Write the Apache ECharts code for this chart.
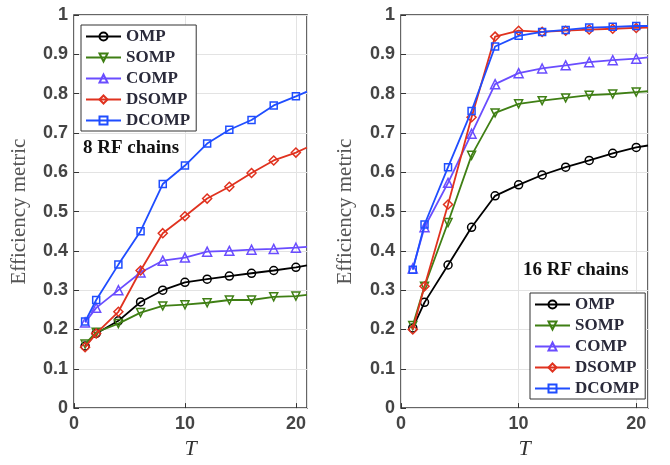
<!DOCTYPE html>
<html>
<head>
<meta charset="utf-8">
<script src="https://cdn.jsdelivr.net/npm/echarts@6/dist/echarts.min.js"></script>
<style>
  html, body { margin: 0; padding: 0; background: #fff; }
  #main { width: 670px; height: 465px; }
</style>
</head>
<body>
<div id="main"></div>
<script>
// T values (21 = where the curve leaves the plot box, no marker)
var tVals = [1, 2, 4, 6, 8, 10, 12, 14, 16, 18, 20, 21]

// 8 RF chains
var omp8 = [0.158, 0.19, 0.222, 0.27, 0.30, 0.32, 0.328, 0.336, 0.343, 0.35, 0.358, 0.363]
var somp8 = [0.163, 0.193, 0.215, 0.243, 0.26, 0.263, 0.268, 0.275, 0.275, 0.283, 0.285, 0.288]
var comp8 = [0.218, 0.255, 0.30, 0.345, 0.375, 0.383, 0.398, 0.40, 0.403, 0.405, 0.408, 0.41]
var dsomp8 = [0.155, 0.19, 0.245, 0.35, 0.445, 0.488, 0.533, 0.563, 0.598, 0.63, 0.65, 0.663]
var dcomp8 = [0.22, 0.275, 0.365, 0.45, 0.57, 0.617, 0.673, 0.708, 0.733, 0.77, 0.793, 0.805]

// 16 RF chains
var omp16 = [0.204, 0.269, 0.364, 0.46, 0.54, 0.568, 0.593, 0.613, 0.63, 0.648, 0.663, 0.668]
var somp16 = [0.21, 0.31, 0.472, 0.643, 0.751, 0.774, 0.782, 0.789, 0.796, 0.799, 0.804, 0.806]
var comp16 = [0.355, 0.46, 0.573, 0.698, 0.824, 0.852, 0.864, 0.872, 0.88, 0.885, 0.889, 0.892]
var dsomp16 = [0.20, 0.31, 0.518, 0.74, 0.945, 0.96, 0.957, 0.96, 0.963, 0.965, 0.967, 0.968]
var dcomp16 = [0.352, 0.467, 0.613, 0.756, 0.92, 0.947, 0.957, 0.962, 0.968, 0.97, 0.972, 0.972]

var names = ['OMP', 'SOMP', 'COMP', 'DSOMP', 'DCOMP']
var colors = ['#000000', '#3f7f14', '#6a4dff', '#e0321f', '#1f4dff']
var symbols = ['circle', 'triangle', 'triangle', 'diamond', 'rect']
var rotates = [0, 180, 0, 0, 0]
var sizes = [8, 8, 9, 9, 7]

var sets8 = [omp8, somp8, comp8, dsomp8, dcomp8]
var sets16 = [omp16, somp16, comp16, dsomp16, dcomp16]

function pairs (ys) {
  return tVals.map(function (t, i) {
    if (i === tVals.length - 1) {
      return { value: [t, ys[i]], symbol: 'none' }
    }
    return [t, ys[i]]
  })
}

var series = []
for (var g = 0; g < 2; g++) {
  var sets = g === 0 ? sets8 : sets16
  for (var k = 0; k < names.length; k++) {
    series.push({
      name: names[k],
      type: 'line',
      xAxisIndex: g,
      yAxisIndex: g,
      data: pairs(sets[k]),
      symbol: symbols[k],
      symbolRotate: rotates[k],
      symbolSize: sizes[k],
      lineStyle: { color: colors[k], width: 1.8 },
      itemStyle: { color: 'rgba(255,255,255,0)', borderColor: colors[k], borderWidth: 1.5 },
      z: 2 + k
    })
  }
}

function xAxisOf (idx) {
  return {
    type: 'value',
    gridIndex: idx,
    min: 0,
    max: 21,
    interval: 10,
    name: 'T',
    nameLocation: 'middle',
    nameGap: 24,
    nameTextStyle: { fontFamily: 'Liberation Serif', fontStyle: 'italic', fontSize: 22, color: '#333' },
    axisLine: { show: false },
    axisTick: { inside: true, length: 5, lineStyle: { color: '#333' } },
    axisLabel: { showMaxLabel: false, fontFamily: 'Liberation Sans', fontWeight: 'bold', fontSize: 18, color: '#444', margin: 7 },
    splitLine: { lineStyle: { color: '#e3e3e3' } }
  }
}

function yAxisOf (idx, gap) {
  return {
    type: 'value',
    gridIndex: idx,
    min: 0,
    max: 1,
    interval: 0.1,
    name: 'Efficiency metric',
    nameLocation: 'middle',
    nameGap: gap,
    nameTextStyle: { fontFamily: 'Liberation Serif', fontSize: 21, color: '#555' },
    axisLine: { show: false },
    axisTick: { show: true, inside: true, length: 5, lineStyle: { color: '#333' } },
    axisLabel: { fontFamily: 'Liberation Sans', fontWeight: 'bold', fontSize: 18, color: '#444', margin: 6 },
    splitLine: { lineStyle: { color: '#e3e3e3' } }
  }
}

function legendAt (left, top) {
  return {
    data: names,
    orient: 'vertical',
    left: left,
    top: top,
    itemWidth: 35,
    itemHeight: 10,
    itemGap: 4,
    padding: [3, 6, 2, 4],
    backgroundColor: '#fff',
    borderColor: '#333',
    borderWidth: 1,
    selectedMode: false,
    textStyle: { fontFamily: 'Liberation Serif', fontWeight: 'bold', fontSize: 17, lineHeight: 17, color: '#2a2a3a' }
  }
}

var chart = echarts.init(document.getElementById('main'))
chart.setOption({
  animation: false,
  backgroundColor: '#fff',
  grid: [
    { left: 74, top: 15, width: 233, height: 400, show: true, borderColor: '#333', borderWidth: 1.5, backgroundColor: 'transparent' },
    { left: 401, top: 15, width: 247, height: 398, show: true, borderColor: '#333', borderWidth: 1.5, backgroundColor: 'transparent' }
  ],
  xAxis: [xAxisOf(0), xAxisOf(1)],
  yAxis: [yAxisOf(0, 44), yAxisOf(1, 45)],
  legend: [legendAt(81, 25), legendAt(530, 293)],
  series: series,
  graphic: [
    { type: 'text', left: 83, top: 139, style: { text: '8 RF chains', fontFamily: 'Liberation Serif', fontWeight: 'bold', fontSize: 19, fill: '#111' } },
    { type: 'text', left: 523, top: 261, style: { text: '16 RF chains', fontFamily: 'Liberation Serif', fontWeight: 'bold', fontSize: 19, fill: '#111' } }
  ]
})
</script>
</body>
</html>
